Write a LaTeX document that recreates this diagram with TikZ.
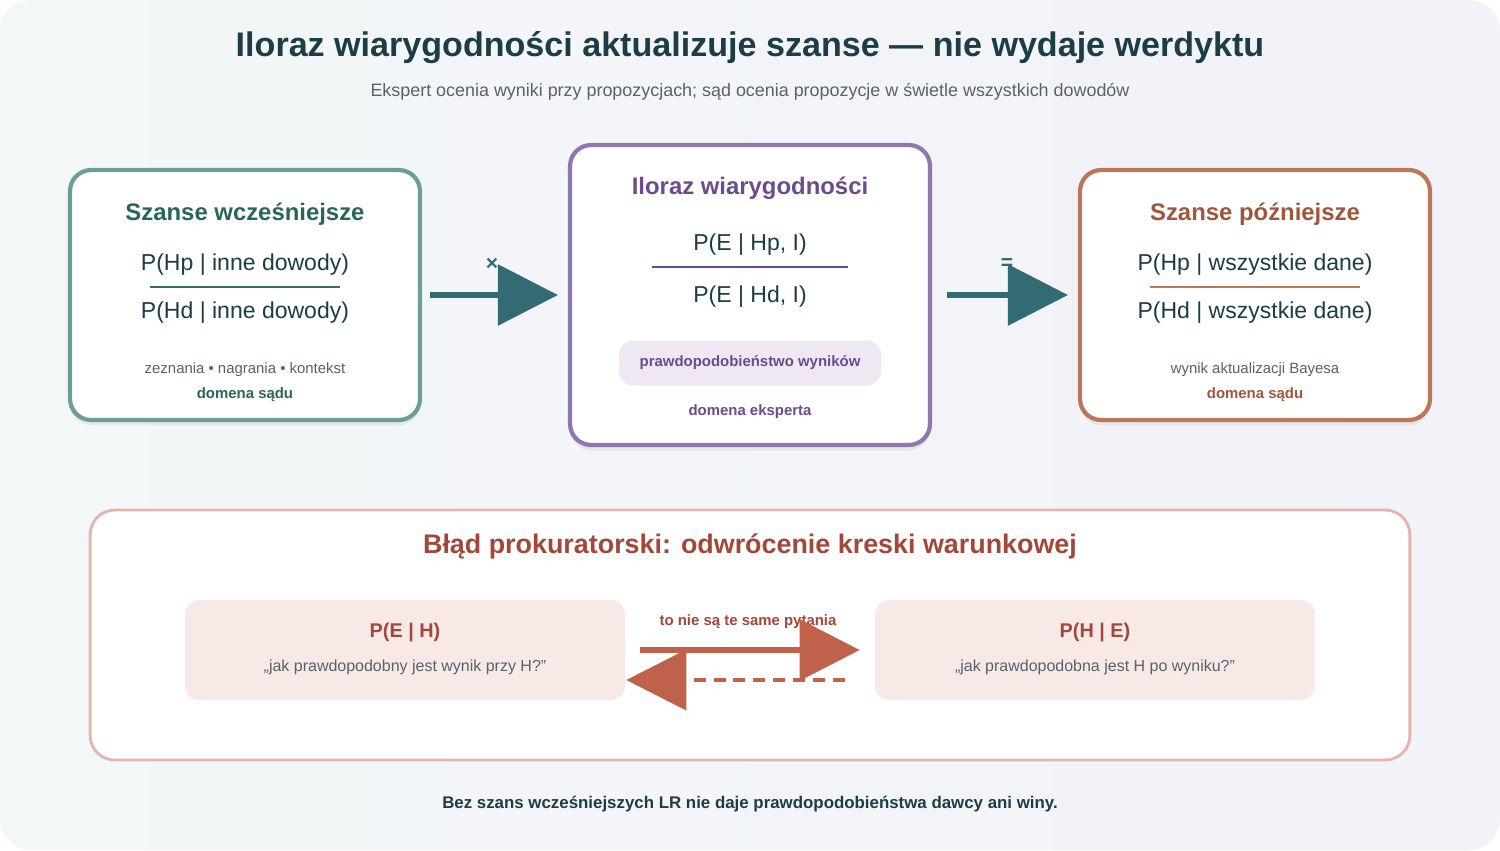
\documentclass[tikz,border=0pt]{standalone}
\usepackage{fontspec}
\setmainfont{Liberation Sans}
\usetikzlibrary{arrows.meta,positioning,shadows}
\definecolor{bgl}{HTML}{F3F7F7}
\definecolor{bgr}{HTML}{F2F2F9}
\definecolor{ink}{HTML}{1C3D45}
\definecolor{grey}{HTML}{56636A}
\definecolor{green}{HTML}{2A6656}
\definecolor{greenb}{HTML}{6C9F94}
\definecolor{teal}{HTML}{336B74}
\definecolor{purple}{HTML}{6C4A8E}
\definecolor{purpleb}{HTML}{8F76AF}
\definecolor{purplef}{HTML}{EFE8F3}
\definecolor{orange}{HTML}{A0563A}
\definecolor{orangeb}{HTML}{BC7658}
\definecolor{red}{HTML}{A2473A}
\definecolor{redb}{HTML}{E3B5AC}
\definecolor{redf}{HTML}{F8E9E6}
\definecolor{redarrow}{HTML}{C0614B}
\tikzset{
 box/.style={draw=#1, line width=2.4pt, fill=white, rounded corners=12pt, inner sep=0pt,
   drop shadow={opacity=0.12, shadow xshift=0pt, shadow yshift=-3pt}},
 head/.style={font=\fontsize{13.6}{16}\selectfont\bfseries, text=#1},
 frac/.style={font=\fontsize{13.1}{16}\selectfont, text=ink},
 small/.style={font=\fontsize{8.5}{10}\selectfont, text=grey},
 domain/.style={font=\fontsize{8.5}{10}\selectfont\bfseries, text=#1},
 big/.style={line width=3.4pt, draw=#1, -{Triangle[length=1.2cm, width=1.2cm]}},
 pane/.style={fill=redf, rounded corners=8pt, minimum width=8.8cm, minimum height=2cm}
}
\begin{document}
\begin{tikzpicture}[x=0.02cm, y=-0.02cm]
\shade[left color=bgl, right color=bgr, rounded corners=18pt]
  (0,0) rectangle (1500,850);
\useasboundingbox (0,0) rectangle (1500,850);

% title
\node[text=ink, font=\fontsize{19.4}{22}\selectfont\bfseries] (title) at (750,48)
  {Iloraz wiarygodności aktualizuje szanse — nie wydaje werdyktu};
\node[text=grey, font=\fontsize{10.2}{12}\selectfont] (sub) at (750,92)
  {Ekspert ocenia wyniki przy propozycjach; sąd ocenia propozycje w świetle wszystkich dowodów};

% prior odds
\node[box=greenb, minimum width=7cm, minimum height=5cm] (prior) at (245,295) {};
\node[head=green] at (245,214) {Szanse wcześniejsze};
\node[frac] at (245,265) {P(Hp | inne dowody)};
\draw[teal, line width=1.6pt] (150,287) -- (340,287);
\node[frac] at (245,313) {P(Hd | inne dowody)};
\node[small] at (245,370) {zeznania • nagrania • kontekst};
\node[domain=green] at (245,395) {domena sądu};

% likelihood ratio
\node[box=purpleb, minimum width=7.2cm, minimum height=6cm] (lr) at (750,295) {};
\node[head=purple] at (750,188) {Iloraz wiarygodności};
\node[frac] at (750,245) {P(E | Hp, I)};
\draw[purple, line width=1.6pt] (652,267) -- (848,267);
\node[frac] at (750,297) {P(E | Hd, I)};
\node[fill=purplef, rounded corners=8pt, minimum width=5.24cm, minimum height=0.9cm,
  domain=purple] (prob) at (750,363) {prawdopodobieństwo wyników};
\node[domain=purple] at (750,412) {domena eksperta};

% posterior odds
\node[box=orangeb, minimum width=7cm, minimum height=5cm] (post) at (1255,295) {};
\node[head=orange] at (1255,214) {Szanse późniejsze};
\node[frac] at (1255,265) {P(Hp | wszystkie dane)};
\draw[orangeb, line width=1.6pt] (1150,287) -- (1360,287);
\node[frac] at (1255,313) {P(Hd | wszystkie dane)};
\node[small] at (1255,370) {wynik aktualizacji Bayesa};
\node[domain=orange] at (1255,395) {domena sądu};

\draw[big=teal] ([shift={(8,0)}]prior.east) -- ([shift={(-10,0)}]lr.west);
\node[text=teal, font=\fontsize{12}{14}\selectfont\bfseries] at (492,264) {×};
\draw[big=teal] ([shift={(15,0)}]lr.east) -- ([shift={(-10,0)}]post.west);
\node[text=teal, font=\fontsize{12}{14}\selectfont\bfseries] at (1007,264) {=};

% prosecutor's fallacy
\node[draw=redb, line width=1.6pt, fill=white, rounded corners=14pt,
  minimum width=26.4cm, minimum height=5cm] (fallacy) at (750,635) {};
\node[text=red, font=\fontsize{15.3}{18}\selectfont\bfseries] at (750,546)
  {Błąd prokuratorski: odwrócenie kreski warunkowej};
\node[pane] (peh) at (405,650) {};
\node[text=red, font=\fontsize{11.3}{13}\selectfont\bfseries] at (405,632) {P(E | H)};
\node[small, font=\fontsize{9.1}{11}\selectfont] at (405,667) {„jak prawdopodobny jest wynik przy H?”};
\node[pane] (phe) at (1095,650) {};
\node[text=red, font=\fontsize{11.3}{13}\selectfont\bfseries] at (1095,632) {P(H | E)};
\node[small, font=\fontsize{9.1}{11}\selectfont] at (1095,667) {„jak prawdopodobna jest H po wyniku?”};
\node[domain=red] at (748,622) {to nie są te same pytania};
\draw[big=redarrow] ([shift={(15,0)}]peh.east) -- ([shift={(-15,0)}]phe.west);
\draw[big=redarrow, line width=2.3pt, dash pattern=on 6.8pt off 4.5pt]
  ([shift={(-30,30)}]phe.west) -- ([shift={(1,30)}]peh.east);

% footer
\node[text=ink, font=\fontsize{9.6}{12}\selectfont\bfseries] (foot) at (750,804)
  {Bez szans wcześniejszych LR nie daje prawdopodobieństwa dawcy ani winy.};
\end{tikzpicture}
\end{document}
